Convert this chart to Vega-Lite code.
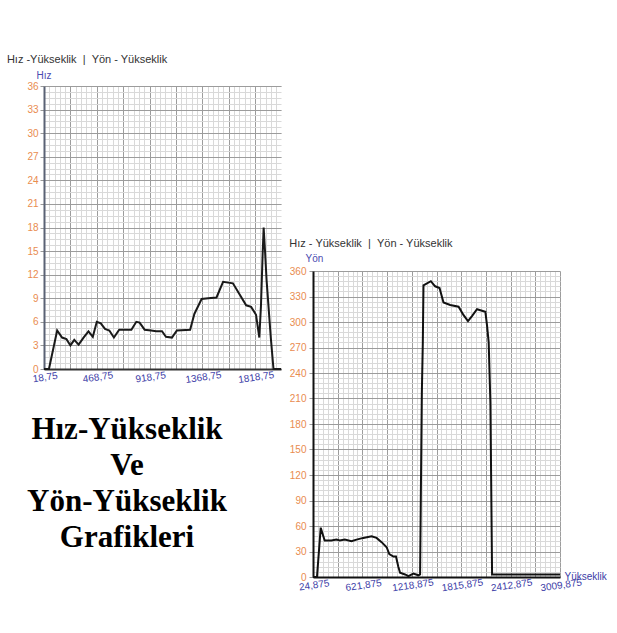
{
  "$schema": "https://vega.github.io/schema/vega-lite/v6.json",
  "background": "white",
  "padding": {"left": 6, "top": 54, "right": 0, "bottom": 0},
  "config": {
    "view": {"stroke": null},
    "font": "Liberation Sans",
    "axis": {"labelFont": "Liberation Sans", "titleFont": "Liberation Sans", "labelFontSize": 10, "titleFontSize": 10, "titleFontWeight": "normal"},
    "title": {"font": "Liberation Sans", "fontSize": 11, "fontWeight": "normal", "color": "#333333", "anchor": "start"}
  },
  "spacing": 4,
  "hconcat": [
    {
      "spacing": 27,
      "vconcat": [
        {
          "width": 237,
          "height": 283,
          "title": {"text": "Hız -Yükseklik\u00a0\u00a0|\u00a0\u00a0Yön - Yükseklik", "offset": 5, "dx": -20},
          "data": {"values": [
            {"yukseklik": 18.75, "hiz": 0}, {"yukseklik": 61, "hiz": 0}, {"yukseklik": 131, "hiz": 4.9},
            {"yukseklik": 173, "hiz": 4.0}, {"yukseklik": 210, "hiz": 3.8}, {"yukseklik": 244, "hiz": 3.0},
            {"yukseklik": 277, "hiz": 3.7}, {"yukseklik": 314, "hiz": 3.1}, {"yukseklik": 356, "hiz": 4.0},
            {"yukseklik": 398, "hiz": 4.8}, {"yukseklik": 435, "hiz": 4.1}, {"yukseklik": 469, "hiz": 6.0},
            {"yukseklik": 503, "hiz": 5.8}, {"yukseklik": 539, "hiz": 5.1}, {"yukseklik": 576, "hiz": 4.9},
            {"yukseklik": 615, "hiz": 4.0}, {"yukseklik": 660, "hiz": 5.0}, {"yukseklik": 722, "hiz": 5.0},
            {"yukseklik": 764, "hiz": 5.0}, {"yukseklik": 806, "hiz": 6.0}, {"yukseklik": 834, "hiz": 5.9},
            {"yukseklik": 877, "hiz": 5.0}, {"yukseklik": 933, "hiz": 4.9}, {"yukseklik": 975, "hiz": 4.8},
            {"yukseklik": 1025, "hiz": 4.8}, {"yukseklik": 1059, "hiz": 4.1}, {"yukseklik": 1110, "hiz": 4.0},
            {"yukseklik": 1152, "hiz": 4.9}, {"yukseklik": 1265, "hiz": 5.0}, {"yukseklik": 1301, "hiz": 7.0},
            {"yukseklik": 1363, "hiz": 8.9}, {"yukseklik": 1419, "hiz": 9.0}, {"yukseklik": 1490, "hiz": 9.1},
            {"yukseklik": 1546, "hiz": 11.1}, {"yukseklik": 1630, "hiz": 10.9}, {"yukseklik": 1743, "hiz": 8.1},
            {"yukseklik": 1785, "hiz": 7.9}, {"yukseklik": 1827, "hiz": 6.9}, {"yukseklik": 1855, "hiz": 4.0},
            {"yukseklik": 1869, "hiz": 8.0}, {"yukseklik": 1883, "hiz": 14.4}, {"yukseklik": 1892, "hiz": 18.0},
            {"yukseklik": 1903, "hiz": 15.2}, {"yukseklik": 1917, "hiz": 11.3}, {"yukseklik": 1953, "hiz": 4.0},
            {"yukseklik": 1976, "hiz": 0}, {"yukseklik": 2040, "hiz": 0}
          ]},
          "resolve": {"axis": {"x": "independent", "y": "independent"}},
          "layer": [
            {
              "mark": {"type": "line", "strokeOpacity": 0},
              "encoding": {
                "x": {"field": "yukseklik", "type": "quantitative", "scale": {"domain": [18.75, 2040], "nice": false, "zero": false},
                  "axis": {"orient": "top", "labels": false, "ticks": false, "domain": false, "title": null, "grid": true, "gridColor": "#d9d9d9", "gridWidth": 1,
                    "values": [18.75, 63.75, 108.75, 153.75, 198.75, 243.75, 288.75, 333.75, 378.75, 423.75, 468.75, 513.75, 558.75, 603.75, 648.75, 693.75, 738.75, 783.75, 828.75, 873.75, 918.75, 963.75, 1008.75, 1053.75, 1098.75, 1143.75, 1188.75, 1233.75, 1278.75, 1323.75, 1368.75, 1413.75, 1458.75, 1503.75, 1548.75, 1593.75, 1638.75, 1683.75, 1728.75, 1773.75, 1818.75, 1863.75, 1908.75, 1953.75, 1998.75]}},
                "y": {"field": "hiz", "type": "quantitative", "scale": {"domain": [0, 36], "nice": false},
                  "axis": {"orient": "right", "labels": false, "ticks": false, "domain": false, "title": null, "grid": true, "gridColor": "#d9d9d9", "gridWidth": 1,
                    "values": [0, 0.75, 1.5, 2.25, 3, 3.75, 4.5, 5.25, 6, 6.75, 7.5, 8.25, 9, 9.75, 10.5, 11.25, 12, 12.75, 13.5, 14.25, 15, 15.75, 16.5, 17.25, 18, 18.75, 19.5, 20.25, 21, 21.75, 22.5, 23.25, 24, 24.75, 25.5, 26.25, 27, 27.75, 28.5, 29.25, 30, 30.75, 31.5, 32.25, 33, 33.75, 34.5, 35.25, 36]}}
              }
            },
            {
              "mark": {"type": "line", "color": "#1a1a1a", "strokeWidth": 2},
              "encoding": {
                "x": {"field": "yukseklik", "type": "quantitative",
                  "axis": {"orient": "bottom", "title": null, "grid": true, "gridColor": "#9c9c9c", "gridWidth": 1,
                    "values": [18.75, 243.75, 468.75, 693.75, 918.75, 1143.75, 1368.75, 1593.75, 1818.75],
                    "labelExpr": "(datum.value - 18.75) % 450 == 0 ? replace(format(datum.value, '.2f'), '.', ',') : ''",
                    "labelColor": "#3b3ba6", "labelAngle": -8, "labelAlign": "center", "labelBaseline": "top", "labelPadding": 3,
                    "ticks": false, "domainColor": "#333333", "domainWidth": 2}},
                "y": {"field": "hiz", "type": "quantitative",
                  "axis": {"orient": "left", "title": "Hız", "titleAngle": 0, "titleAlign": "left", "titleBaseline": "bottom", "titleX": -8, "titleY": -6, "titleColor": "#4a4ab0",
                    "grid": true, "gridColor": "#9c9c9c", "gridWidth": 1,
                    "values": [0, 3, 6, 9, 12, 15, 18, 21, 24, 27, 30, 33, 36], "format": "d",
                    "labelColor": "#e98c4f", "tickSize": 4, "tickColor": "#999999", "labelPadding": 2, "domainColor": "#5a6275", "domainWidth": 2}}
              }
            }
          ]
        },
        {
          "width": 166,
          "height": 144,
          "data": {"values": [
            {"satir": 1, "metin": "Hız-Yükseklik"},
            {"satir": 2, "metin": "Ve"},
            {"satir": 3, "metin": "Yön-Yükseklik"},
            {"satir": 4, "metin": "Grafikleri"}
          ]},
          "mark": {"type": "text", "font": "Liberation Serif", "fontWeight": "bold", "fontSize": 31, "color": "#000000", "baseline": "middle", "align": "center"},
          "encoding": {
            "y": {"field": "satir", "type": "ordinal", "axis": null},
            "text": {"field": "metin"}
          }
        }
      ]
    },
    {
      "spacing": 0,
      "vconcat": [
        {
          "width": 240,
          "height": 152,
          "data": {"values": []},
          "mark": "point"
        },
        {
          "width": 247,
          "height": 306,
          "title": {"text": "Hız - Yükseklik\u00a0\u00a0|\u00a0\u00a0Yön - Yükseklik", "offset": 4},
          "data": {"values": [
            {"yukseklik": 24.875, "yon": 0}, {"yukseklik": 73, "yon": 0}, {"yukseklik": 118, "yon": 58},
            {"yukseklik": 166, "yon": 43}, {"yukseklik": 247, "yon": 43}, {"yukseklik": 308, "yon": 44},
            {"yukseklik": 348, "yon": 43}, {"yukseklik": 409, "yon": 44}, {"yukseklik": 490, "yon": 42},
            {"yukseklik": 551, "yon": 44}, {"yukseklik": 632, "yon": 46}, {"yukseklik": 733, "yon": 48},
            {"yukseklik": 793, "yon": 46}, {"yukseklik": 854, "yon": 41}, {"yukseklik": 915, "yon": 35},
            {"yukseklik": 947, "yon": 27}, {"yukseklik": 996, "yon": 24}, {"yukseklik": 1028, "yon": 24},
            {"yukseklik": 1056, "yon": 12}, {"yukseklik": 1077, "yon": 5}, {"yukseklik": 1137, "yon": 3},
            {"yukseklik": 1178, "yon": 1}, {"yukseklik": 1238, "yon": 4}, {"yukseklik": 1299, "yon": 2},
            {"yukseklik": 1319, "yon": 3}, {"yukseklik": 1340, "yon": 215}, {"yukseklik": 1352, "yon": 276},
            {"yukseklik": 1360, "yon": 343}, {"yukseklik": 1449, "yon": 348}, {"yukseklik": 1501, "yon": 342},
            {"yukseklik": 1554, "yon": 340}, {"yukseklik": 1602, "yon": 323}, {"yukseklik": 1683, "yon": 320},
            {"yukseklik": 1784, "yon": 318}, {"yukseklik": 1845, "yon": 308}, {"yukseklik": 1898, "yon": 301},
            {"yukseklik": 1946, "yon": 307}, {"yukseklik": 2007, "yon": 315}, {"yukseklik": 2108, "yon": 312},
            {"yukseklik": 2128, "yon": 296}, {"yukseklik": 2148, "yon": 276}, {"yukseklik": 2169, "yon": 204},
            {"yukseklik": 2189, "yon": 3}, {"yukseklik": 3009.875, "yon": 3}
          ]},
          "resolve": {"axis": {"x": "independent", "y": "independent"}},
          "layer": [
            {
              "mark": {"type": "line", "strokeOpacity": 0},
              "encoding": {
                "x": {"field": "yukseklik", "type": "quantitative", "scale": {"domain": [24.875, 3009.875], "nice": false, "zero": false},
                  "axis": {"orient": "top", "labels": false, "ticks": false, "domain": false, "title": null, "grid": true, "gridColor": "#d9d9d9", "gridWidth": 1,
                    "values": [24.875, 84.575, 144.275, 203.975, 263.675, 323.375, 383.075, 442.775, 502.475, 562.175, 621.875, 681.575, 741.275, 800.975, 860.675, 920.375, 980.075, 1039.775, 1099.475, 1159.175, 1218.875, 1278.575, 1338.275, 1397.975, 1457.675, 1517.375, 1577.075, 1636.775, 1696.475, 1756.175, 1815.875, 1875.575, 1935.275, 1994.975, 2054.675, 2114.375, 2174.075, 2233.775, 2293.475, 2353.175, 2412.875, 2472.575, 2532.275, 2591.975, 2651.675, 2711.375, 2771.075, 2830.775, 2890.475, 2950.175, 3009.875]}},
                "y": {"field": "yon", "type": "quantitative", "scale": {"domain": [0, 360], "nice": false},
                  "axis": {"orient": "right", "labels": false, "ticks": false, "domain": false, "title": null, "grid": true, "gridColor": "#d9d9d9", "gridWidth": 1,
                    "values": [0, 6, 12, 18, 24, 30, 36, 42, 48, 54, 60, 66, 72, 78, 84, 90, 96, 102, 108, 114, 120, 126, 132, 138, 144, 150, 156, 162, 168, 174, 180, 186, 192, 198, 204, 210, 216, 222, 228, 234, 240, 246, 252, 258, 264, 270, 276, 282, 288, 294, 300, 306, 312, 318, 324, 330, 336, 342, 348, 354, 360]}}
              }
            },
            {
              "mark": {"type": "line", "color": "#111111", "strokeWidth": 2},
              "encoding": {
                "x": {"field": "yukseklik", "type": "quantitative",
                  "axis": {"orient": "bottom", "title": "Yükseklik", "titleColor": "#3b3ba6", "titleAlign": "left", "titleBaseline": "middle", "titleX": 251, "titleY": -1, "titleAnchor": "end",
                    "grid": true, "gridColor": "#9c9c9c", "gridWidth": 1,
                    "values": [24.875, 323.375, 621.875, 920.375, 1218.875, 1517.375, 1815.875, 2114.375, 2412.875, 2711.375, 3009.875],
                    "labelExpr": "(datum.value - 24.875) % 597 == 0 ? replace(format(datum.value, '.3f'), '.', ',') : ''",
                    "labelColor": "#3b3ba6", "labelAngle": -8, "labelAlign": "center", "labelBaseline": "top", "labelPadding": 3,
                    "ticks": false, "domainColor": "#111111", "domainWidth": 2}},
                "y": {"field": "yon", "type": "quantitative",
                  "axis": {"orient": "left", "title": "Yön", "titleAngle": 0, "titleAlign": "left", "titleBaseline": "bottom", "titleX": -8, "titleY": -8, "titleColor": "#4a4ab0",
                    "grid": true, "gridColor": "#9c9c9c", "gridWidth": 1,
                    "values": [0, 30, 60, 90, 120, 150, 180, 210, 240, 270, 300, 330, 360], "format": "d",
                    "labelColor": "#e98c4f", "tickSize": 4, "tickColor": "#999999", "labelPadding": 3, "domainColor": "#111111", "domainWidth": 2}}
              }
            }
          ]
        }
      ]
    }
  ]
}
